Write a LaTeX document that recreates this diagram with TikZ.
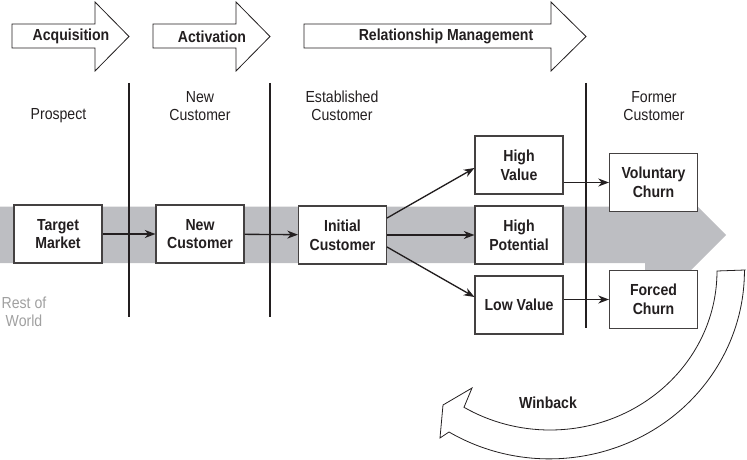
\documentclass[tikz,border=0pt]{standalone}
\usepackage{fontspec}
\setmainfont{Liberation Sans}[FakeStretch=0.88]
\usepackage{tikz}
\usetikzlibrary{arrows.meta,positioning,calc}

\definecolor{bandgray}{RGB}{189,190,194}
\definecolor{inkgray}{RGB}{35,31,32}
\definecolor{worldgray}{RGB}{160,160,160}

\begin{document}
\begin{tikzpicture}[x=0.75pt, y=-0.75pt,
    every node/.style={font=\fontsize{12pt}{13.8pt}\selectfont, text=inkgray},
    phase/.style={draw=inkgray, line width=0.6pt, fill=white},
    phaselabel/.style={font=\fontsize{12pt}{13.8pt}\selectfont\bfseries},
    stage/.style={align=center},
    custbox/.style={draw=inkgray!85, line width=0.8pt, fill=white, align=center,
        minimum width=66pt, minimum height=43.5pt, inner sep=1pt,
        font=\fontsize{12pt}{14pt}\selectfont\bfseries},
    divider/.style={draw=inkgray, line width=1.1pt},
    flow/.style={draw=inkgray, line width=1pt, -{Stealth[length=8pt, width=6pt, inset=2.5pt]}}]
    \useasboundingbox (0,0) rectangle (747,460);

    % the grey band behind the customer boxes
    \fill[bandgray] (0,206.5) -- (645,206.5) -- (645,154) -- (726,235) -- (645,316)
        -- (645,263) -- (0,263) -- cycle;

    % phase arrows along the top
    \draw[phase] (12,24) -- (95,24) -- (95,2) -- (129,36.5) -- (95,71) -- (95,48) -- (12,48) -- cycle;
    \node[phaselabel] (acq) at (71,36.5) {Acquisition};
    \draw[phase] (153,24) -- (236,24) -- (236,2) -- (270,36.5) -- (236,71) -- (236,48) -- (153,48) -- cycle;
    \node[phaselabel] (act) at (212,36.5) {Activation};
    \draw[phase] (304,24) -- (551,24) -- (551,2) -- (586,36.5) -- (551,71) -- (551,48) -- (304,48) -- cycle;
    \node[phaselabel] (relman) at (446,36.5) {Relationship Management};

    % stage dividers
    \draw[divider] (129,83) -- (129,317);
    \draw[divider] (270,83) -- (270,317);
    \draw[divider] (586,83) -- (586,328);

    % stage names
    \node[anchor=base] (prospect) at (58.5,120) {Prospect};
    \node[stage] (newstage) at (200,106) {New\\Customer};
    \node[stage] (eststage) at (342,106) {Established\\Customer};
    \node[stage] (formerstage) at (654,106) {Former\\Customer};
    \node[stage, text=worldgray] (world) at (24,312) {Rest of\\World};

    % customer states
    \node[custbox] (tm) at (58,234) {Target\\Market};
    \node[custbox] (nc) at (200,234) {New\\Customer};
    \node[custbox] (ic) at (342.5,235) {Initial\\Customer};
    \node[custbox] (hv) at (519,165) {High\\Value};
    \node[custbox] (hp) at (519,235) {High\\Potential};
    \node[custbox] (lv) at (519,305) {Low Value};
    \node[custbox] (vc) at (653.5,182.5) {Voluntary\\Churn};
    \node[custbox] (fc) at (653.5,299.5) {Forced\\Churn};

    \draw[flow] (tm) -- (nc);
    \draw[flow] (nc) -- (ic);
    \draw[flow] ($(ic.east)+(0,-17)$) -- ($(hv.west)+(0,3)$);
    \draw[flow] (ic) -- (hp);
    \draw[flow] ($(ic.east)+(0,12)$) -- ($(lv.west)+(0,-8)$);
    \draw[flow] (hv.east |- vc.west) -- (vc.west);
    \draw[flow] (lv.east |- fc.west) -- (fc.west);

    % winback arrow
    \draw[draw=inkgray, line width=0.6pt, fill=white] (745,270) -- (717,271)
        arc[start angle=0, end angle=121, x radius=167, y radius=159]
        -- (472,388) -- (443,405) -- (440,438) -- (449,432)
        arc[start angle=121, end angle=0, x radius=195, y radius=188] -- cycle;
    \node[phaselabel] (winback) at (548,403) {Winback};
\end{tikzpicture}
\end{document}
